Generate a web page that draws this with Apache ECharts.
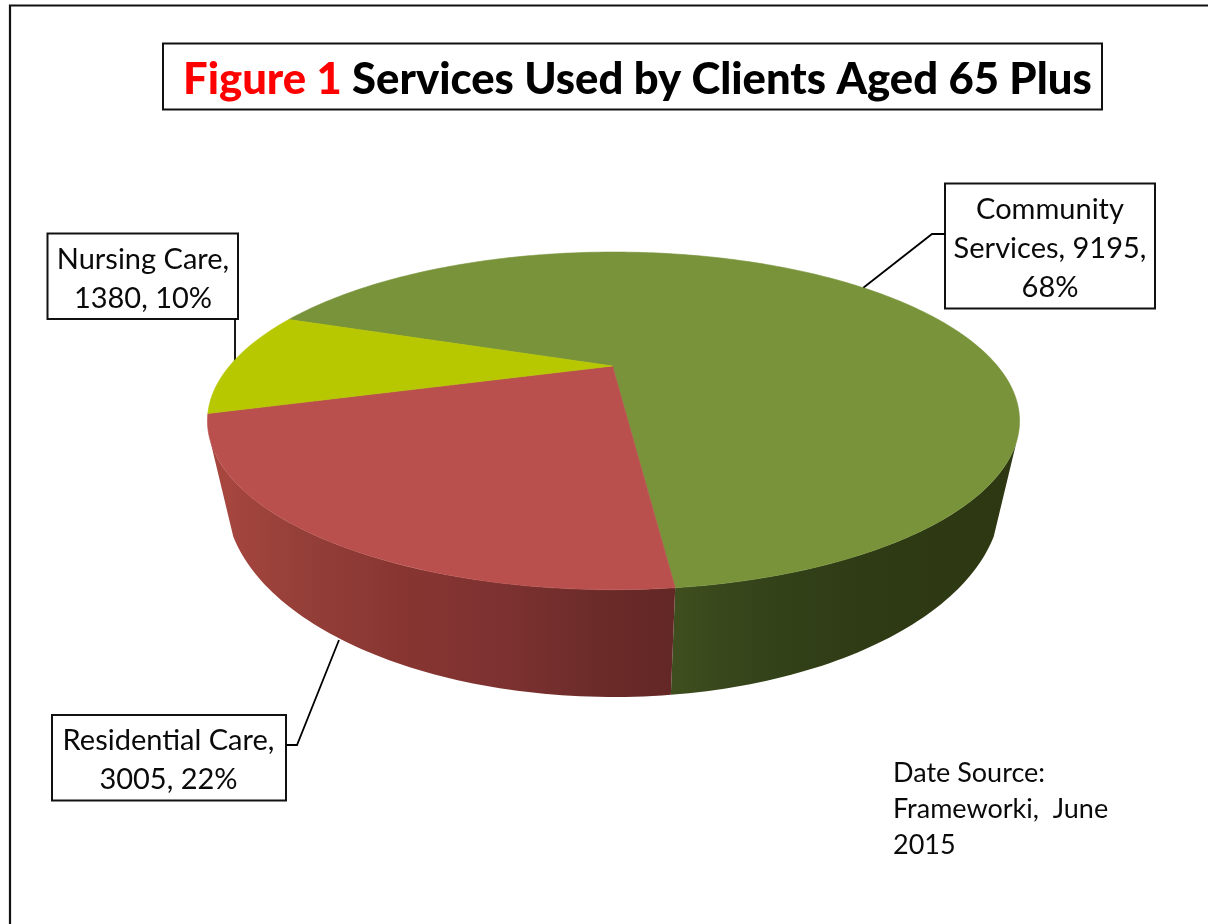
<!DOCTYPE html>
<html><head><meta charset="utf-8">
<style>html,body{margin:0;padding:0;background:#fff}#c{width:1208px;height:924px}</style>
<script src="https://cdn.jsdelivr.net/npm/echarts@6/dist/echarts.min.js"></script>
</head><body><div id="c"></div>
<script>
const categories = ['Community Services', 'Residential Care', 'Nursing Care'];
const values = [9195, 3005, 1380];
const percents = [68, 22, 10];
const topColors = ['#78933a', '#b9504d', '#b7c700'];
const wallStops = [
  [[676,'#3e4e1e'],[760,'#34431a'],[860,'#2f3b15'],[1020,'#2d3813']],
  [[225,'#a6463f'],[300,'#953f39'],[400,'#883531'],[500,'#7d3231'],[600,'#6b2b29'],[676,'#632725']],
  [[200,'#8f9c00'],[300,'#8f9c00']]
];
const labelLines = [
  ['Community', 'Services, 9195,', '68%'],
  ['Residential Care,', '3005, 22%'],
  ['Nursing Care,', '1380, 10%']
];
const sourceLines = ['Date Source:', 'Frameworki,  June', '2015'];

const FONT = 'Lato, "Open Sans", sans-serif';
const total = values.reduce((a, b) => a + b, 0);
const START = 110;
const TOP_DISK = {ax: 613.5, ay: 366, cu: 384, cv: 151, k: 0.325};
const LOW_DISK = {ax: 613.5, ay: 437, cu: 370, cv: 182, k: 0.3};
const FRONT_TOP = 65, FRONT_LOW = 62;
function project(deg, d) {
  const t = deg * Math.PI / 180, u = -Math.sin(t), v = Math.cos(t), w = 1 - d.k * v;
  return [d.ax + d.cu * u / w, d.ay + d.cv * v / w];
}
function range(i) {
  let a = START;
  for (let j = 0; j < i; j++) a += values[j] / total * 360;
  return [a, a + values[i] / total * 360];
}
function arc(a, b, d) {
  const n = Math.max(8, Math.ceil(b - a)), pts = [];
  for (let i = 0; i <= n; i++) pts.push(project(a + (b - a) * i / n, d));
  return pts;
}
function frontPart(a, b, limit) {
  const lo = Math.max(a, 360 - limit), hi = Math.min(b, 360 + limit);
  return hi > lo ? [lo, hi] : null;
}
function renderWall(params, api) {
  const i = api.value(1), [a, b] = range(i);
  const t = frontPart(a, b, FRONT_TOP), l = frontPart(a, b, FRONT_LOW);
  if (!t || !l) return null;
  const stops = wallStops[i], x0 = stops[0][0], x1 = stops[stops.length - 1][0];
  const grad = new echarts.graphic.LinearGradient(x0, 0, x1, 0,
    stops.map(s => ({offset: (s[0] - x0) / (x1 - x0), color: s[1]})), true);
  return {type: 'polygon', shape: {points: arc(t[0], t[1], TOP_DISK).concat(arc(l[0], l[1], LOW_DISK).reverse())},
    style: {fill: grad}, silent: true};
}
function renderTop(params, api) {
  const i = api.value(1), [a, b] = range(i);
  return {type: 'polygon', shape: {points: [[TOP_DISK.ax - 1, TOP_DISK.ay]].concat(arc(a, b, TOP_DISK))},
    style: {fill: topColors[i], stroke: topColors[i], lineWidth: 0.6}, silent: true};
}
const pieData = values.map((v, i) => ({name: categories[i], value: [v, i]}));

function box(x0, y0, x1, y1) {
  return {type: 'rect', shape: {x: x0, y: y0, width: x1 - x0, height: y1 - y0}, z: 1, silent: true,
    style: {fill: '#fff', stroke: '#111', lineWidth: 2}};
}
function line(pts) {
  return {type: 'polyline', shape: {points: pts}, z: 2, silent: true,
    style: {fill: null, stroke: '#000', lineWidth: 1.8}};
}
function label(lines, x, y) {
  return {type: 'text', z: 3, silent: true, style: {x, y, text: lines.join('\n'), align: 'center', verticalAlign: 'middle',
    font: '29px ' + FONT, lineHeight: 39, fill: '#0a0a0a'}};
}
const chart = echarts.init(document.getElementById('c'), null, {renderer: 'canvas'});
chart.setOption({
  animation: false,
  backgroundColor: '#fff',
  title: {
    left: 183, top: 52, padding: 0, z: 6,
    text: '{r|Figure 1}{k| Services Used by Clients Aged 65 Plus}',
    textStyle: {rich: {
      r: {fontFamily: FONT, fontWeight: 900, fontSize: 43.6, color: '#ff0000', lineHeight: 56},
      k: {fontFamily: FONT, fontWeight: 900, fontSize: 43.6, color: '#000', lineHeight: 56}
    }}
  },
  series: [
    {type: 'custom', coordinateSystem: 'none', name: 'walls', data: pieData, renderItem: renderWall, silent: true, z: 2},
    {type: 'custom', coordinateSystem: 'none', name: 'tops', data: pieData, renderItem: renderTop, silent: true, z: 3}
  ],
  graphic: [
    {type: 'polyline', shape: {points: [[10, 924], [10, 5.5], [1208, 5.5]]}, silent: true, style: {fill: null, stroke: '#111', lineWidth: 2.2}},
    box(163, 43.5, 1102, 109.5),
    box(945, 183.5, 1155, 308.5), line([[945, 234], [932, 234], [863, 288]]), label(labelLines[0], 1050, 249),
    box(47.5, 233.5, 238, 319), line([[235, 319], [235, 361]]), label(labelLines[2], 143, 279),
    box(52, 715, 286, 800.5), line([[286, 745], [297, 745], [339, 640]]), label(labelLines[1], 168.5, 760),
    {type: 'text', silent: true, style: {x: 893, y: 809, text: sourceLines.join('\n'), align: 'left', verticalAlign: 'middle',
      font: '27px ' + FONT, lineHeight: 36, fill: '#0a0a0a'}}
  ]
});
</script></body></html>
